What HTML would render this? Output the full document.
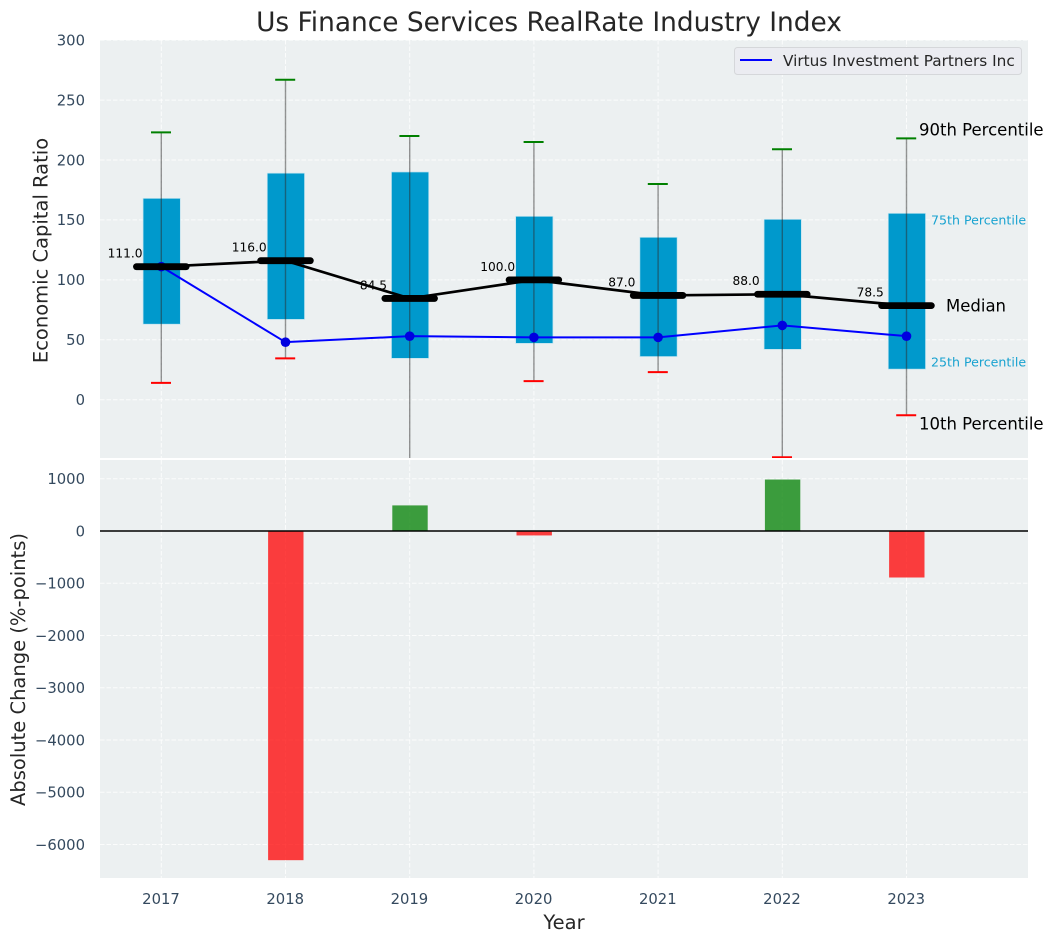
<!DOCTYPE html>
<html lang="en">
<head>
<meta charset="utf-8">
<title>Us Finance Services RealRate Industry Index</title>
<style>
html,body{margin:0;padding:0;background:#fff;}
svg{display:block;}
text{font-family:"DejaVu Sans","Liberation Sans",sans-serif;}
</style>
</head>
<body>
<svg id="chart" xmlns="http://www.w3.org/2000/svg" width="1054" height="942" viewBox="0 0 1054 942">
  <defs>
    <clipPath id="top-clip"><rect x="100" y="40" width="928" height="418"></rect></clipPath>
  </defs>
  <rect x="0" y="0" width="1054" height="942" fill="#ffffff"></rect>
  <rect x="100" y="40" width="928" height="418" fill="#ecf0f1"></rect>
  <rect x="100" y="460" width="928" height="418" fill="#ecf0f1"></rect>
  <g id="grid"></g>
  <g id="top-marks" clip-path="url(#top-clip)"></g>
  <g id="bottom-marks"></g>
  <g id="ticks" font-size="14.8" fill="#34495e"></g>
  <g id="median-labels" font-size="12.2" fill="#000000"></g>

  <text x="549" y="31" text-anchor="middle" font-size="26.4" fill="#262626">Us Finance Services RealRate Industry Index</text>
  <text transform="translate(47.5,250.5) rotate(-90)" text-anchor="middle" font-size="19.5" fill="#262626">Economic Capital Ratio</text>
  <text transform="translate(25,669.5) rotate(-90)" text-anchor="middle" font-size="19.5" fill="#262626">Absolute Change (%-points)</text>
  <text x="564" y="929" text-anchor="middle" font-size="19.5" fill="#262626">Year</text>

  <g>
    <rect x="734.5" y="47.5" width="287" height="27" rx="3" fill="#ebecf1" stroke="#d5d7da" stroke-width="1"></rect>
    <line x1="740" y1="60" x2="772" y2="60" stroke="#0000ff" stroke-width="2"></line>
    <text x="783" y="66" font-size="15.3" fill="#262626">Virtus Investment Partners Inc</text>
  </g>

  <text x="919" y="135.5" font-size="16.5" fill="#000000">90th Percentile</text>
  <text x="931" y="224.5" font-size="12.6" fill="#0099cc" fill-opacity="0.9">75th Percentile</text>
  <text x="946" y="311.5" font-size="16.5" fill="#000000">Median</text>
  <text x="931" y="366.5" font-size="12.6" fill="#0099cc" fill-opacity="0.9">25th Percentile</text>
  <text x="919" y="429.5" font-size="16.5" fill="#000000">10th Percentile</text>
</svg>
<script>
const years = [2017, 2018, 2019, 2020, 2021, 2022, 2023];
const p90 = [223, 267, 220, 215, 180, 209, 218];
const p75 = [168, 189, 190, 153, 135.5, 150.5, 155.5];
const median = [111, 116, 84.5, 100, 87, 88, 78.5];
const p25 = [63, 67, 34.5, 47, 36, 42, 25.5];
const p10 = [14, 34.5, -55, 15.5, 23, -48, -13];
const company = [111, 48, 53, 52, 52, 62, 53];
const change = [0, -6300, 490, -85, 0, 985, -890];
const topTicks = [0, 50, 100, 150, 200, 250, 300];
const bottomTicks = [1000, 0, -1000, -2000, -3000, -4000, -5000, -6000];

const NS = 'http://www.w3.org/2000/svg';
const xScale = function (year) { return 161.3 + 124.2 * (year - 2017); };
const yTop = function (value) { return 399.7 - 1.1985 * value; };
const yBottom = function (value) { return 531 - 0.05225 * value; };
const bandWidth = function (units) { return 124.2 * units; };

function make(parent, tag, attrs, text) {
  const el = document.createElementNS(NS, tag);
  Object.keys(attrs).forEach(function (k) { el.setAttribute(k, attrs[k]); });
  if (text !== undefined) { el.textContent = text; }
  parent.appendChild(el);
  return el;
}

const grid = document.getElementById('grid');
const topMarks = document.getElementById('top-marks');
const bottomMarks = document.getElementById('bottom-marks');
const ticks = document.getElementById('ticks');
const medianLabels = document.getElementById('median-labels');
const dash = { stroke: '#ffffff', 'stroke-width': 1, 'stroke-dasharray': '4.5 2', 'stroke-opacity': 0.8 };

topTicks.forEach(function (v) {
  const line = make(grid, 'line', Object.assign({ x1: 100, x2: 1028, y1: yTop(v), y2: yTop(v) }, dash));
  
  
  const label = make(ticks, 'text', { x: 85, y: yTop(v) + 5.3, 'text-anchor': 'end' }, String(v));
  
  
});

bottomTicks.forEach(function (v) {
  const line = make(grid, 'line', Object.assign({ x1: 100, x2: 1028, y1: yBottom(v), y2: yBottom(v) }, dash));
  
  
  const label = make(ticks, 'text', { x: 85, y: yBottom(v) + 5.3, 'text-anchor': 'end' }, String(v).replace('-', '\u2212'));
  
  
});

years.forEach(function (year) {
  const x = xScale(year);
  const topLine = make(grid, 'line', Object.assign({ x1: x, x2: x, y1: 40, y2: 458 }, dash));
  
  
  const bottomLine = make(grid, 'line', Object.assign({ x1: x, x2: x, y1: 460, y2: 878 }, dash));
  
  
  const label = make(ticks, 'text', { x: x - 0.3, y: 904, 'text-anchor': 'middle' }, String(year));
  
  
});

years.forEach(function (year, i) {
  const x = xScale(year);
  const w = bandWidth(0.3);
  const box = make(topMarks, 'rect', {
    x: x + 0.4 - w / 2, y: yTop(p75[i]), width: w, height: yTop(p25[i]) - yTop(p75[i]),
    fill: '#0099cc', stroke: '#bfe3ef', 'stroke-width': 0.7
  });
  
  

  const whisker = make(topMarks, 'line', {
    x1: x, x2: x, y1: yTop(p90[i]), y2: yTop(p10[i]),
    stroke: '#2b2b2b', 'stroke-width': 1.4, 'stroke-opacity': 0.5
  });
  
  

  const capHigh = make(topMarks, 'line', {
    x1: x - 10.3, x2: x + 9.7, y1: yTop(p90[i]), y2: yTop(p90[i]), stroke: '#008000', 'stroke-width': 2
  });
  
  

  const capLow = make(topMarks, 'line', {
    x1: x - 10.3, x2: x + 9.7, y1: yTop(p10[i]), y2: yTop(p10[i]), stroke: '#ff0000', 'stroke-width': 2
  });
  
  
});

const pointsFor = function (series) {
  return years.map(function (year, i) { return xScale(year) + ',' + yTop(series[i]); }).join(' ');
};

years.forEach(function (year, i) {
  const label = make(medianLabels, 'text', {
    x: xScale(year) - bandWidth(0.3) + 1, y: yTop(median[i]) - 9, 'text-anchor': 'middle'
  }, median[i].toFixed(1));
  
  
});

const companyLine = make(topMarks, 'polyline', {
  points: pointsFor(company), fill: 'none', stroke: '#0000ff', 'stroke-width': 2
});



years.forEach(function (year, i) {
  const dot = make(topMarks, 'circle', { cx: xScale(year), cy: yTop(company[i]), r: 4.8, fill: '#0000e0' });
  
  
});

const medianLine = make(topMarks, 'polyline', {
  points: pointsFor(median), fill: 'none', stroke: '#000000', 'stroke-width': 2.7
});



years.forEach(function (year, i) {
  const x = xScale(year);
  const w = bandWidth(0.2);
  const bar = make(topMarks, 'line', {
    x1: x - w, x2: x + w, y1: yTop(median[i]), y2: yTop(median[i]),
    stroke: '#000000', 'stroke-width': 6.8, 'stroke-linecap': 'round'
  });
  
  
});

years.forEach(function (year, i) {
  if (change[i] === 0) { return; }
  const w = bandWidth(0.285);
  const y0 = yBottom(0);
  const y1 = yBottom(change[i]);
  const bar = make(bottomMarks, 'rect', {
    x: xScale(year) + 0.3 - w / 2, y: Math.min(y0, y1), width: w, height: Math.abs(y1 - y0),
    fill: change[i] > 0 ? '#008000' : '#ff0000', 'fill-opacity': 0.75
  });
  
  
});

const zeroLine = make(bottomMarks, 'line', {
  x1: 100, x2: 1028, y1: yBottom(0), y2: yBottom(0), stroke: '#000000', 'stroke-width': 1.4
});


</script>
</body>
</html>
